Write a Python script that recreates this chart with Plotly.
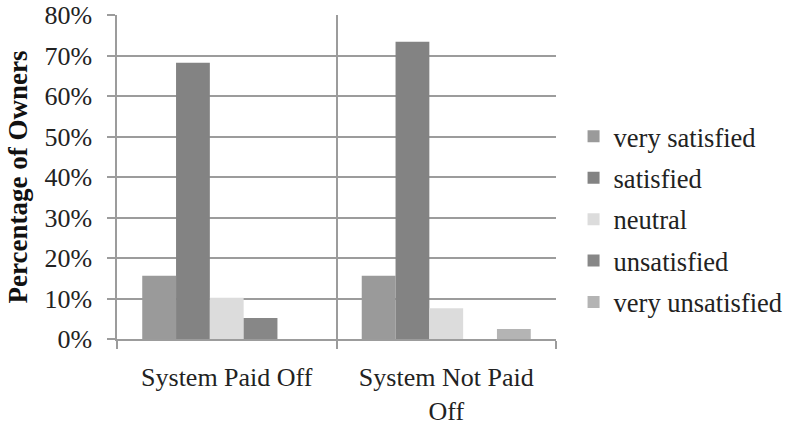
import plotly.graph_objects as go

# Survey data: owner satisfaction by whether the system is paid off
categories = ["System Paid Off", "System Not Paid<br>Off"]
levels = ["very satisfied", "satisfied", "neutral", "unsatisfied", "very unsatisfied"]
very_satisfied = [15.6, 15.6]
satisfied = [68.2, 73.4]
neutral = [10.2, 7.6]
unsatisfied = [5.2, 0.0]
very_unsatisfied = [0.0, 2.5]
tick_vals = [0, 10, 20, 30, 40, 50, 60, 70, 80]
tick_text = ["0%", "10%", "20%", "30%", "40%", "50%", "60%", "70%", "80%"]

series = [very_satisfied, satisfied, neutral, unsatisfied, very_unsatisfied]
colors = ["#9a9a9a", "#838383", "#dcdcdc", "#878787", "#b4b4b4"]

serif = "Liberation Serif"

fig = go.Figure()
for name, vals, col in zip(levels, series, colors):
    fig.add_trace(go.Bar(
        x=categories, y=vals, name=name, legendgroup=name,
        marker=dict(color=col, line=dict(width=0)),
    ))

fig.update_layout(
    width=785, height=423,
    margin=dict(l=117, r=229, t=15, b=84, autoexpand=False),
    paper_bgcolor="white", plot_bgcolor="white",
    barmode="group", bargap=0.23, bargroupgap=0,
    font=dict(family=serif, size=25, color="#222222"),
    legend=dict(
        x=1.04, xanchor="left", y=0.699, yanchor="top",
        font=dict(family=serif, size=26.5, color="#222222"),
        tracegroupgap=4, itemsizing="constant",
        bgcolor="rgba(0,0,0,0)",
    ),
    showlegend=True,
)

fig.update_yaxes(
    range=[0, 80], tickvals=tick_vals, ticktext=tick_text, automargin=False,
    showgrid=True, gridcolor="#9c9c9c", gridwidth=1.5,
    showline=True, linecolor="#9c9c9c", linewidth=1.5,
    ticks="outside", ticklen=8, tickcolor="#9c9c9c", tickwidth=1.5,
    ticklabelstandoff=10,
    tickfont=dict(family=serif, size=26, color="#222222"),
    zeroline=False,
    title=dict(text="<b>Percentage of Owners</b>",
               font=dict(family=serif, size=27, color="#111111"), standoff=9),
)

fig.update_xaxes(
    tickson="boundaries", showgrid=True, gridcolor="#9c9c9c", gridwidth=1.5,
    showline=True, linecolor="#9c9c9c", linewidth=1.5, mirror=False, automargin=False,
    ticks="outside", ticklen=8, tickcolor="#9c9c9c", tickwidth=1.5,
    ticklabelstandoff=14,
    tickfont=dict(family=serif, size=26, color="#222222"),
)

fig.write_html("out.html")
